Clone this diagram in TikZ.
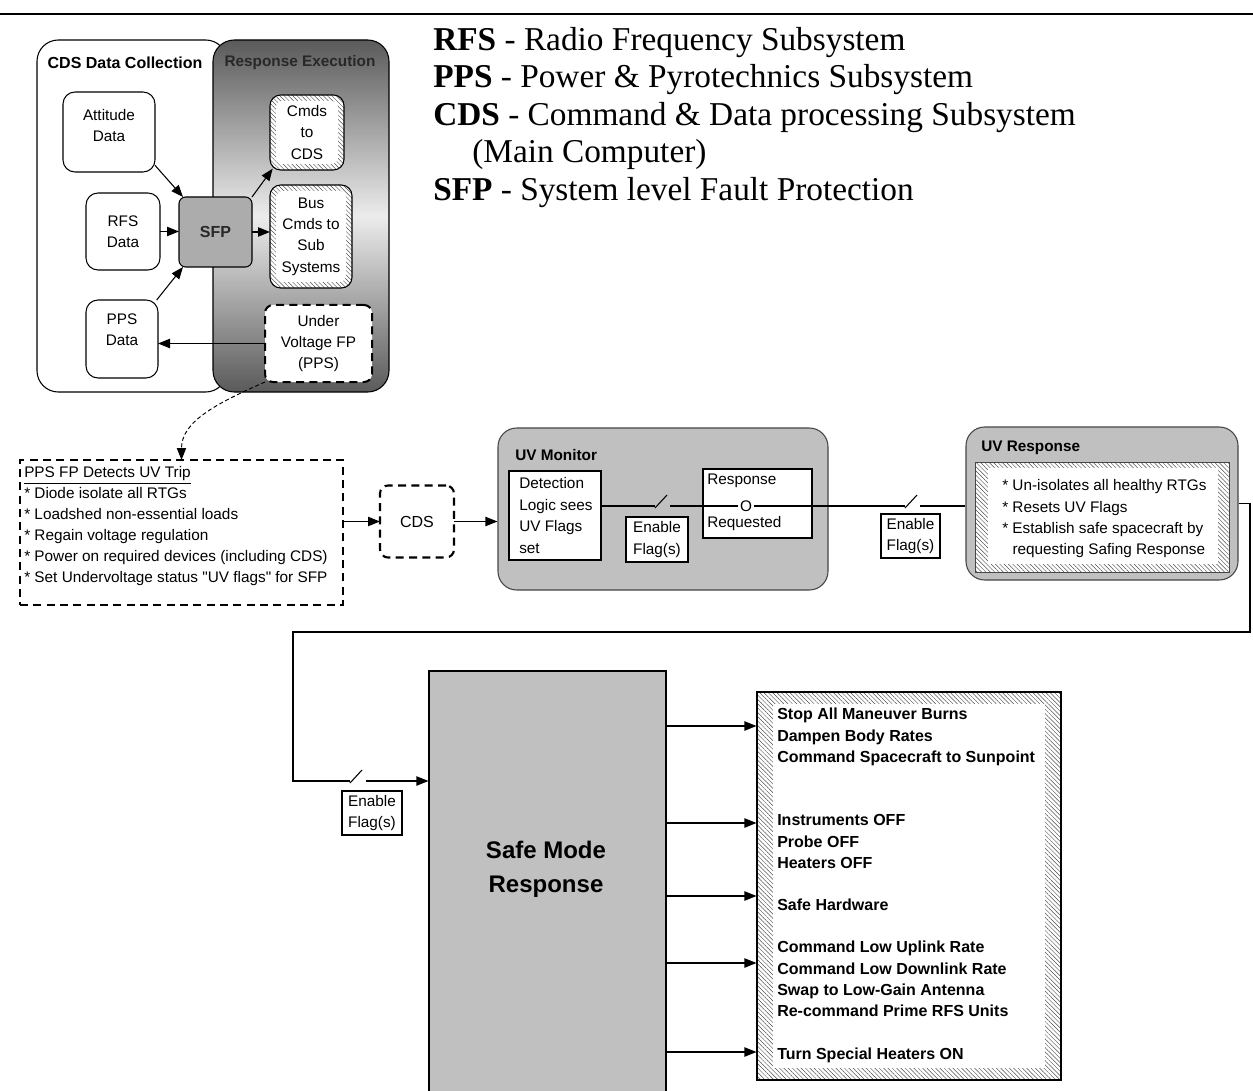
\documentclass[tikz,border=0pt]{standalone}
\usepackage{fontspec}
\setmainfont{Liberation Sans}[Ligatures=TeXOff]
\newfontfamily\legendfont{Liberation Serif}
\usetikzlibrary{arrows.meta,patterns.meta,calc}
\definecolor{panelgray}{RGB}{192,192,192}
\definecolor{sfpgray}{RGB}{172,172,172}
\definecolor{edgegray}{RGB}{70,70,70}
\definecolor{shadedark}{RGB}{90,90,90}
\definecolor{shadelight}{RGB}{236,236,236}
\definecolor{titlegray}{RGB}{40,40,40}
\definecolor{hatchgray}{RGB}{80,80,80}
\newcommand{\fsz}[2]{\fontsize{#1}{#2}\selectfont}
\tikzset{
  box/.style={draw, inner sep=0pt, outer sep=0pt, line width=0.8pt},
  W/.style={minimum width=#1*0.75pt},
  H/.style={minimum height=#1*0.75pt},
  txt/.style={font=\fsz{11.5}{16}, inner sep=0pt, align=center},
  ltxt/.style={font=\fsz{11.5}{15.75}, inner sep=0pt, align=left},
  btxt/.style={font=\bfseries\fsz{12}{16}, inner sep=0pt, align=left},
  conn/.style={line width=0.8pt},
  arr/.style={conn, -{Triangle[length=9pt,width=7pt]}},
  hatchfill/.style={preaction={fill=white}, pattern={Lines[angle=-45,distance=2.3pt,line width=0.35pt]}, pattern color=hatchgray},
  thickdash/.style={line width=1.6pt, dash pattern=on 6pt off 4pt},
  legend/.style={font=\legendfont\fsz{25}{28}, inner sep=0pt, anchor=base west},
}
\begin{document}
\begin{tikzpicture}[x=0.75pt,y=-0.75pt]
\path[use as bounding box, fill=white] (0,0) rectangle (1253,1091);
\coordinate (ruleL) at (0,14);
\coordinate (ruleR) at (1253,14);
\draw[line width=1.2pt] (ruleL) -- (ruleR);

% legend
\node[legend] (lg1) at (433,50.5) {\textbf{RFS} - Radio Frequency Subsystem};
\node[legend] (lg2) at (433,88) {\textbf{PPS} - Power \& Pyrotechnics Subsystem};
\node[legend] (lg3) at (433,125.5) {\textbf{CDS} - Command \& Data processing Subsystem};
\node[legend] (lg4) at (472,163) {(Main Computer)};
\node[legend] (lg5) at (433,200.5) {\textbf{SFP} - System level Fault Protection};

% top-left panels
\node[box, rounded corners=16pt, fill=white, W=190, H=352] (cdsc) at (132,216) {};
\node[box, rounded corners=16pt, top color=shadedark, bottom color=shadedark, middle color=shadelight, W=176, H=352] (resx) at (301,216) {};
\node[font=\bfseries\fsz{12}{14}, inner sep=0pt] (cdst) at (125,63) {CDS Data Collection};
\node[font=\bfseries\fsz{11.5}{14}, text=titlegray, inner sep=0pt] (resxt) at (300,63) {Response Execution};

\node[box, rounded corners=9pt, fill=white, W=92, H=80] (att) at (109,132) {};
\node[txt] (attt) at (109,125.5) {Attitude\\Data};
\node[box, rounded corners=9pt, fill=white, W=74, H=77, txt] (rfs) at (123,231.5) {RFS\\Data};
\node[box, rounded corners=9pt, fill=white, W=72, H=78] (pps) at (122,339) {};
\node[txt] (ppst) at (122,329.5) {PPS\\Data};
\node[box, rounded corners=5pt, fill=sfpgray, W=73, H=70, font=\bfseries\fsz{12}{14}, text=titlegray] (sfp) at (215.5,232) {SFP};

\node[box, rounded corners=8pt, hatchfill, W=74, H=75] (cmds) at (307,132.5) {};
\node[fill=white, rounded corners=5pt, inner sep=0pt, W=62, H=63, txt] (cmdst) at (cmds.center) {Cmds\\to\\CDS};
\node[box, rounded corners=8pt, hatchfill, W=82, H=103] (bus) at (311,236.5) {};
\node[fill=white, rounded corners=5pt, inner sep=0pt, W=70, H=91, txt] (bust) at (bus.center) {Bus\\Cmds to\\Sub\\Systems};
\node[box, thickdash, line width=1.5pt, rounded corners=6pt, fill=white, W=107, H=77, txt] (uvfp) at (318.5,343.5) {Under\\Voltage FP\\(PPS)};

\draw[arr] ([yshift=5pt]att.south east) -- ([xshift=3pt]sfp.north west);
\draw[arr] (rfs.east) -- (rfs.east -| sfp.west);
\draw[arr] ([xshift=-1pt]pps.north east) -- ([xshift=3pt]sfp.south west);
\draw[arr] (sfp.north east) -- ([xshift=2pt,yshift=1pt]cmds.south west);
\draw[arr] (sfp.east) -- (sfp.east -| bus.west);
\draw[arr] (uvfp.west) -- (uvfp.west -| pps.east);

% PPS FP box
\node[box, thickdash, W=323, H=145] (ppsfp) at (181.5,532.5) {};
\node[ltxt, anchor=north west] (ppsfpt) at (24,466.5) {\underline{PPS FP Detects UV Trip}\\* Diode isolate all RTGs\\* Loadshed non-essential loads\\* Regain voltage regulation\\* Power on required devices (including CDS)\\* Set Undervoltage status "UV flags" for SFP};
\draw[conn, line width=0.7pt, dash pattern=on 3pt off 2pt, -{Triangle[length=9pt,width=7pt]}] (uvfp.south west) .. controls +(-50,22) and +(0,-38) .. (ppsfp.north);

% CDS
\node[box, thickdash, rounded corners=6pt, W=74, H=72, font=\fsz{12}{14}] (cds) at (417,521.5) {CDS};
\draw[arr] (cds.west -| ppsfp.east) -- (cds.west);

% UV Monitor
\node[draw=edgegray, line width=0.8pt, fill=panelgray, rounded corners=14pt, inner sep=0pt, W=330, H=162] (uvm) at (663,509) {};
\draw[arr] (cds.east) -- (cds.east -| uvm.west);
\node[font=\bfseries\fsz{11.5}{14}, inner sep=0pt, anchor=west] (uvmt) at (515,455) {UV Monitor};
\node[box, fill=white, W=92, H=89] (det) at (555,515.5) {};
\node[ltxt, anchor=north west, font=\fsz{11.5}{16.3}] (dett) at (519,477) {Detection\\Logic sees\\UV Flags\\set};
\node[box, fill=white, W=62, H=45, txt, align=left] (en1) at (657,539.5) {Enable\\Flag(s)};
\node[box, fill=white, W=109, H=69] (resp) at (757.5,503.5) {};
\node[font=\fsz{11.5}{14}, inner sep=0pt, anchor=west] (respt) at (707,481) {Response};
\node[font=\fsz{11.5}{14}, inner sep=0pt, anchor=west] (reqt) at (707,524) {Requested};
\node[font=\fsz{11.5}{14}, inner sep=1pt] (O) at (746,506) {O};
\node[box, fill=white, W=59, H=44, txt, align=left] (en2) at (910.5,536) {Enable\\Flag(s)};

% UV Response
\node[draw=edgegray, line width=0.8pt, fill=panelgray, rounded corners=14pt, inner sep=0pt, W=272, H=153] (uvr) at (1102,503.5) {};
\node[font=\bfseries\fsz{11.5}{14}, inner sep=0pt, anchor=west] (uvrt) at (981,448) {UV Response};
\node[draw=edgegray, line width=0.6pt, hatchfill, inner sep=0pt, W=254, H=110] (uvrh) at (1102,517) {};
\node[fill=white, inner sep=0pt, W=230, H=96] (uvrw) at (1103,516) {};
\node[ltxt, anchor=north west, font=\fsz{11.5}{16}] (uvrtx) at (1002,479.5) {* Un-isolates all healthy RTGs\\* Resets UV Flags\\* Establish safe spacecraft by\\\phantom{* }requesting Safing Response};

% switch line
\coordinate (sw1a) at (655,506);
\coordinate (sw1b) at (670,506);
\coordinate (sw2a) at (905,506);
\coordinate (sw2b) at (920,506);
\draw[conn] (O.west -| det.east) -- (sw1a);
\draw[conn] ([yshift=-1.5pt]sw1a) -- ++(12,-13);
\draw[conn] (sw1b) -- (O.west);
\draw[conn] (O.east) -- (sw2a);
\draw[conn] ([yshift=-1.5pt]sw2a) -- ++(12,-13);
\draw[conn] (sw2b) -- (sw2b -| uvr.west);

% Safe mode
\node[draw, line width=0.8pt, fill=panelgray, inner sep=0pt, W=237, H=424] (sm) at (547.5,883) {};
\node[font=\bfseries\fsz{18}{25.5}, align=center, inner sep=0pt] (smt) at (546,869) {Safe Mode\\Response};

\coordinate (rt) at (1250,632);
\coordinate (lf) at (293,632);
\coordinate (sw3a) at (350,781);
\coordinate (sw3b) at (366,781);
\draw[conn] (uvr.east) -| (rt) -- (lf) |- (sw3a);
\draw[conn] ([yshift=-1.5pt]sw3a) -- ++(12,-13);
\draw[arr] (sw3b) -- (sw3b -| sm.west);
\node[box, fill=white, W=60, H=44, txt, align=left] (en3) at (372,813) {Enable\\Flag(s)};

% list
\node[draw, line width=0.8pt, hatchfill, inner sep=0pt, W=304, H=388] (lst) at (909,886) {};
\node[fill=white, inner sep=0pt, W=272, H=364] (lstw) at (909,885.5) {};
\node[btxt, anchor=north west] (g1) at (777,708) {Stop All Maneuver Burns\\Dampen Body Rates\\Command Spacecraft to Sunpoint};
\node[btxt, anchor=north west] (g2) at (777,814.5) {Instruments OFF\\Probe OFF\\Heaters OFF};
\node[btxt, anchor=north west] (g3) at (777,899) {Safe Hardware};
\node[btxt, anchor=north west] (g4) at (777,941) {Command Low Uplink Rate\\Command Low Downlink Rate\\Swap to Low-Gain Antenna\\Re-command Prime RFS Units};
\node[btxt, anchor=north west] (g5) at (777,1048) {Turn Special Heaters ON};

\coordinate (ya) at (700,726);
\coordinate (yb) at (700,823);
\coordinate (yc) at (700,896);
\coordinate (yd) at (700,963);
\coordinate (ye) at (700,1052);
\draw[arr] (sm.east |- ya) -- (lst.west |- ya);
\draw[arr] (sm.east |- yb) -- (lst.west |- yb);
\draw[arr] (sm.east |- yc) -- (lst.west |- yc);
\draw[arr] (sm.east |- yd) -- (lst.west |- yd);
\draw[arr] (sm.east |- ye) -- (lst.west |- ye);
\end{tikzpicture}
\end{document}
